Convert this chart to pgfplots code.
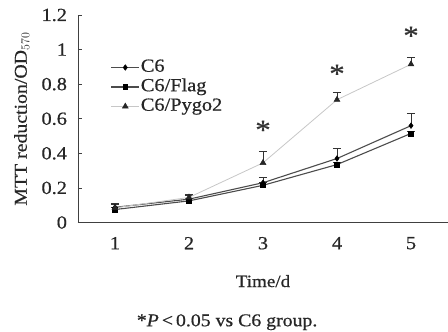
\documentclass[border=0pt]{standalone}
\usepackage{pgfplots}
\pgfplotsset{compat=1.18}
\usepackage{fontspec}
\setmainfont[FakeStretch=1.1, FakeBold=0.6]{Liberation Serif}
\begin{document}
\begin{tikzpicture}
\path[use as bounding box] (0,0) rectangle (448pt,332pt);
\begin{axis}[
  at={(78pt,109.5pt)}, anchor=south west,
  scale only axis, width=370pt, height=207.5pt,
  clip=false,
  xmin=0.5, xmax=5.5, ymin=0, ymax=1.2,
  axis x line=bottom, axis y line=left,
  axis line style={-, black!75, line width=0.8pt},
  xtick={1,2,3,4,5},
  major x tick style={draw=none},
  extra x ticks={1.5,2.5,3.5,4.5},
  extra x tick labels={},
  extra x tick style={major tick length=5pt, tick style={black!75, line width=0.8pt}},
  ytick={0,0.2,...,1.2},
  yticklabels={0,0.2,0.4,0.6,0.8,1,1.2},
  tick align=inside,
  major tick length=4pt,
  tick style={black!75, line width=0.8pt},
  /pgf/number format/assume math mode=true,
  ticklabel style={font=\fontsize{18.5}{20}\selectfont, text=black!85},
  xticklabel style={yshift=-11pt},
  yticklabel style={xshift=-7.5pt},
  xlabel={Time/d},
  xlabel style={font=\fontsize{17.3}{19}\selectfont, at={(axis description cs:0.5,-0.311)}, anchor=base, text=black!85},
  ylabel={MTT reduction/OD$_{570}$},
  ylabel style={font=\fontsize{18}{20}\selectfont, at={(axis description cs:-0.152,0.5)}, anchor=center, text=black!85},
  legend style={at={(axis description cs:0.088,0.795)}, anchor=north west, draw=none, fill=none,
    font=\fontsize{18.5}{20}\selectfont, inner sep=0pt, row sep=0pt,
    nodes={text height=13pt, text depth=4.5pt, inner sep=1pt, text=black!85}},
  legend cell align=left,
  legend image code/.code={\draw[mark repeat=2, mark phase=2] plot coordinates {(0pt,0pt) (14pt,0pt) (28pt,0pt)};},
  every axis plot/.append style={error bars/y dir=plus, error bars/y explicit,
    error bars/error mark options={rotate=90, mark size=4pt, black!80, line width=0.7pt},
    error bars/error bar style={black!80, line width=0.7pt}},
]
\addplot[black!70, line width=1.1pt, mark=diamond*, mark size=2.8pt, mark options={black, line width=0.5pt}]
  coordinates {(1,0.088) +- (0,0.025) (2,0.135) +- (0,0.02) (3,0.23) +- (0,0.03) (4,0.37) +- (0,0.06) (5,0.56) +- (0,0.07)};
\addlegendentry{C6}
\addplot[black!70, line width=1.1pt, mark=square*, mark size=2.4pt, mark options={black, line width=0.5pt}]
  coordinates {(1,0.075) +- (0,0.01) (2,0.125) +- (0,0.015) (3,0.215) +- (0,0.02) (4,0.335) +- (0,0.01) (5,0.515) +- (0,0.01)};
\addlegendentry{C6/Flag}
\addplot[black!22, line width=0.8pt, mark=triangle*, mark size=3.4pt, mark options={black!85, draw=black!85, line width=0.5pt}]
  coordinates {(1,0.085) +- (0,0.02) (2,0.145) +- (0,0.02) (3,0.345) +- (0,0.065) (4,0.71) +- (0,0.04) (5,0.915) +- (0,0.04)};
\addlegendentry{C6/Pygo2}
\node[font=\fontsize{28}{28}\selectfont, text=black!80] at (axis cs:3,0.535) {*};
\node[font=\fontsize{28}{28}\selectfont, text=black!80] at (axis cs:4,0.86) {*};
\node[font=\fontsize{28}{28}\selectfont, text=black!80] at (axis cs:5,1.08) {*};
\node[font=\fontsize{18}{20}\selectfont, anchor=base, text=black!85] at (axis description cs:0.403,-0.5) {*\textit{P}\,<\,0.05 vs C6 group.};
\end{axis}
\end{tikzpicture}
\end{document}
